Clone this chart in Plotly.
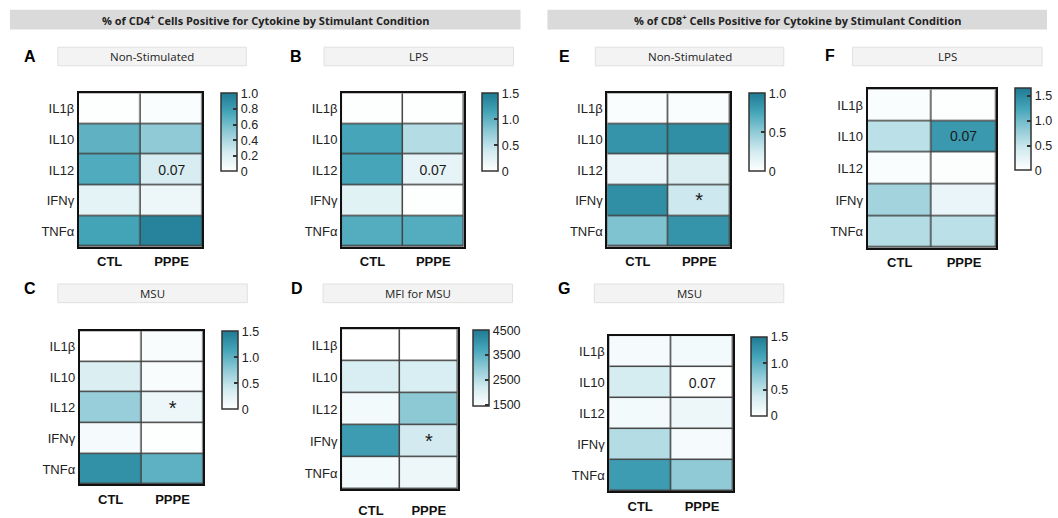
import plotly.graph_objects as go

W, H = 1058, 518

cytokines = ["IL1β", "IL10", "IL12", "IFNγ", "TNFα"]
groups = ["CTL", "PPPE"]

# values (rows = cytokines, cols = CTL, PPPE)
a_vals = [[0.01, 0.03], [0.66, 0.50], [0.71, 0.22], [0.15, 0.10], [0.76, 0.95]]
b_vals = [[0.02, 0.02], [1.12, 0.55], [1.12, 0.20], [0.25, 0.02], [1.05, 1.05]]
c_vals = [[0.00, 0.05], [0.30, 0.05], [0.70, 0.15], [0.08, 0.02], [1.30, 1.00]]
d_vals = [[1450, 1450], [2100, 2100], [1650, 3000], [3900, 2200], [1650, 1750]]
e_vals = [[0.03, 0.03], [0.85, 0.88], [0.12, 0.20], [0.88, 0.27], [0.55, 0.85]]
f_vals = [[0.05, 0.02], [0.55, 1.35], [0.05, 0.03], [0.70, 0.20], [0.60, 0.55]]
g_vals = [[0.08, 0.10], [0.35, 0.02], [0.10, 0.15], [0.55, 0.08], [1.20, 0.75]]

# significance labels
a_text = [["", ""], ["", ""], ["", "0.07"], ["", ""], ["", ""]]
b_text = [["", ""], ["", ""], ["", "0.07"], ["", ""], ["", ""]]
c_text = [["", ""], ["", ""], ["", "*"], ["", ""], ["", ""]]
d_text = [["", ""], ["", ""], ["", ""], ["", "*"], ["", ""]]
e_text = [["", ""], ["", ""], ["", ""], ["", "*"], ["", ""]]
f_text = [["", ""], ["", "0.07"], ["", ""], ["", ""], ["", ""]]
g_text = [["", ""], ["", "0.07"], ["", ""], ["", ""], ["", ""]]

cd4_title = "% of CD4<sup>+</sup> Cells Positive for Cytokine by Stimulant Condition"
cd8_title = "% of CD8<sup>+</sup> Cells Positive for Cytokine by Stimulant Condition"

colorscale = [[0, "#ffffff"], [0.25, "#d2ebf0"], [0.5, "#8fcad6"],
              [0.75, "#45a5b9"], [1, "#1f7a93"]]

panels = [
    dict(letter="A", title="Non-Stimulated", z=a_vals, text=a_text, zmin=0, zmax=1.0,
         tv=[0, 0.2, 0.4, 0.6, 0.8, 1.0], tt=["0", "0.2", "0.4", "0.6", "0.8", "1.0"],
         hm=(79, 95, 203, 251), cb=(222, 95, 78, 16), sub=(58, 48, 247, 67), let=(30, 57), tstd=2),
    dict(letter="B", title="LPS", z=b_vals, text=b_text, zmin=0, zmax=1.5,
         tv=[0, 0.5, 1.0, 1.5], tt=["0", "0.5", "1.0", "1.5"],
         hm=(343, 95, 465, 251), cb=(483, 95, 78, 16), sub=(325, 48, 515, 67), let=(297, 57), tstd=2),
    dict(letter="C", title="MSU", z=c_vals, text=c_text, zmin=0, zmax=1.5,
         tv=[0, 0.5, 1.0, 1.5], tt=["0", "0.5", "1.0", "1.5"],
         hm=(80, 337, 204, 493), cb=(223, 337, 78, 16), sub=(58, 289, 248, 308), let=(30, 294), tstd=2),
    dict(letter="D", title="MFI for MSU", z=d_vals, text=d_text, zmin=1450, zmax=4500,
         tv=[1500, 2500, 3500, 4500], tt=["1500", "2500", "3500", "4500"],
         hm=(343, 335, 459, 498), cb=(474, 336, 76, 16), sub=(324, 289, 514, 308), let=(298, 294), tstd=8),
    dict(letter="E", title="Non-Stimulated", z=e_vals, text=e_text, zmin=0, zmax=1.0,
         tv=[0, 0.5, 1.0], tt=["0", "0.5", "1.0"],
         hm=(609, 95, 732, 251), cb=(751, 95, 78, 16), sub=(597, 48, 786, 67), let=(566, 57), tstd=2),
    dict(letter="F", title="LPS", z=f_vals, text=f_text, zmin=0, zmax=1.65,
         tv=[0, 0.5, 1.0, 1.5], tt=["0", "0.5", "1.0", "1.5"],
         hm=(870, 91, 999, 252), cb=(1018, 90, 82, 16), sub=(855, 48, 1045, 67), let=(832, 56), tstd=2),
    dict(letter="G", title="MSU", z=g_vals, text=g_text, zmin=0, zmax=1.5,
         tv=[0, 0.5, 1.0, 1.5], tt=["0", "0.5", "1.0", "1.5"],
         hm=(611, 342, 735, 500), cb=(753, 343, 79, 16), sub=(596, 289, 786, 308), let=(566, 294), tstd=2),
]

fig = go.Figure()
shapes = []
annotations = []
layout = {}

def px_x(x):
    return x / W

def px_y(y):
    return 1 - y / H

FONT = "Liberation Sans, Arial, sans-serif"

for i, p in enumerate(panels):
    n = "" if i == 0 else str(i + 1)
    x0, y0, x1, y1 = p["hm"]
    cbx, cby, cblen, cbth = p["cb"]
    is_star = any("*" in c for row in p["text"] for c in row)
    fig.add_trace(go.Heatmap(
        z=p["z"], x=groups, y=cytokines, text=p["text"], texttemplate="%{text}",
        textfont=dict(size=20 if is_star else 14, color="#1a1a1a", family=FONT),
        zmin=p["zmin"], zmax=p["zmax"], colorscale=colorscale, xgap=1.5, ygap=1.5,
        xaxis="x" + n, yaxis="y" + n, hoverinfo="skip",
        colorbar=dict(
            x=px_x(cbx), xanchor="left", y=px_y(cby), yanchor="top",
            len=cblen, lenmode="pixels", thickness=cbth, thicknessmode="pixels",
            xpad=0, ypad=0, outlinewidth=1.5, outlinecolor="#333",
            tickvals=p["tv"], ticktext=p["tt"], ticks="inside", ticklen=4,
            tickcolor="#333", tickwidth=1.5,
            tickfont=dict(size=12.5, color="#222", family=FONT),
        ),
    ))
    layout["xaxis" + n] = dict(
        domain=[px_x(x0), px_x(x1)], anchor="y" + n, showgrid=False, zeroline=False,
        showline=True, mirror=True, linecolor="#111", linewidth=2,
        tickmode="array", tickvals=groups, ticktext=["<b>" + g + "</b>" for g in groups],
        tickfont=dict(size=13, color="#111", family=FONT),
        ticks="outside", ticklen=p["tstd"], tickcolor="rgba(0,0,0,0)", fixedrange=True,
    )
    layout["yaxis" + n] = dict(
        domain=[px_y(y1), px_y(y0)], anchor="x" + n, showgrid=False, zeroline=False,
        showline=True, mirror=True, linecolor="#111", linewidth=2, autorange="reversed",
        tickfont=dict(size=13, color="#222", family=FONT), ticks="", fixedrange=True,
    )
    sx0, sy0, sx1, sy1 = p["sub"]
    shapes.append(dict(type="rect", xref="paper", yref="paper",
                       x0=px_x(sx0), x1=px_x(sx1), y0=px_y(sy1), y1=px_y(sy0),
                       fillcolor="#f3f3f3", line=dict(color="#e0e0e0", width=1), layer="below"))
    annotations.append(dict(text=p["title"], xref="paper", yref="paper",
                            x=px_x((sx0 + sx1) / 2), y=px_y((sy0 + sy1) / 2),
                            showarrow=False, xanchor="center", yanchor="middle",
                            font=dict(size=11.5, color="#222", family="Open Sans, sans-serif")))
    lx, ly = p["let"]
    annotations.append(dict(text="<b>" + p["letter"] + "</b>", xref="paper", yref="paper",
                            x=px_x(lx), y=px_y(ly), showarrow=False,
                            xanchor="center", yanchor="middle",
                            font=dict(size=16, color="#000", family=FONT)))

# header bars
for (hx0, hx1, title) in [(10, 522, cd4_title), (549, 1050, cd8_title)]:
    shapes.append(dict(type="rect", xref="paper", yref="paper",
                       x0=px_x(hx0), x1=px_x(hx1), y0=px_y(30), y1=px_y(10),
                       fillcolor="#dadada", line=dict(width=0), layer="below"))
    annotations.append(dict(text="<b>" + title + "</b>", xref="paper", yref="paper",
                            x=px_x((hx0 + hx1) / 2), y=px_y(20), showarrow=False,
                            xanchor="center", yanchor="middle",
                            font=dict(size=11, color="#222", family="Open Sans, sans-serif")))

fig.update_layout(
    width=W, height=H, margin=dict(l=0, r=0, t=0, b=0),
    paper_bgcolor="white", plot_bgcolor="#444444",
    shapes=shapes, annotations=annotations, showlegend=False,
    **layout,
)

fig.write_html("out.html", config={"displayModeBar": False})

# remove the default page margin so the figure sits at the window's corner
with open("out.html", encoding="utf-8") as fh:
    html = fh.read()
html = html.replace("<head>", "<head><style>html,body{margin:0;padding:0;overflow:hidden;}</style>", 1)
with open("out.html", "w", encoding="utf-8") as fh:
    fh.write(html)
